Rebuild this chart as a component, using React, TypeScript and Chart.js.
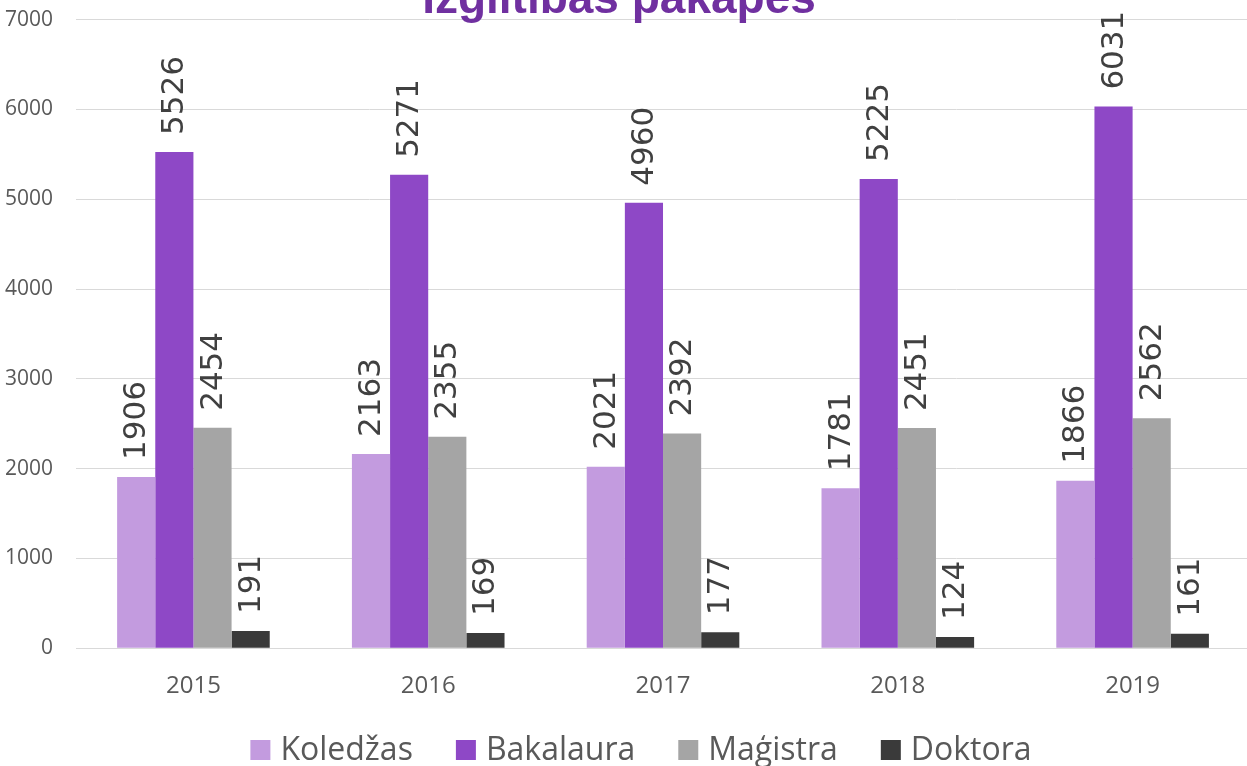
import React, { useEffect, useRef } from "react";
import { Chart, registerables } from "chart.js";

Chart.register(...registerables);

const years = ["2015", "2016", "2017", "2018", "2019"];
const seriesNames = ["Koledžas", "Bakalaura", "Maģistra", "Doktora"];
const koledzas = [1906, 2163, 2021, 1781, 1866];
const bakalaura = [5526, 5271, 4960, 5225, 6031];
const magistra = [2454, 2355, 2392, 2451, 2562];
const doktora = [191, 169, 177, 124, 161];
const seriesColors = ["#C39BDF", "#8E48C6", "#A5A5A5", "#3A3A3A"];
const yMax = 7000;
const yStep = 1000;
const titleText = "Izglītības pakāpes";

const SHIFT = 16;

const titlePlugin = {
  id: "clippedTitle",
  afterDraw(chart: any) {
    const ctx = chart.ctx;
    ctx.save();
    ctx.font = "bold 46px 'Liberation Sans', Arial, sans-serif";
    ctx.fillStyle = "#7030A0";
    ctx.textAlign = "center";
    ctx.textBaseline = "alphabetic";
    ctx.fillText(titleText, 619, 13 + SHIFT);
    ctx.restore();
  },
};

const legendPlugin = {
  id: "bottomLegend",
  afterDraw(chart: any) {
    const ctx = chart.ctx;
    ctx.save();
    ctx.font = "32px 'Open Sans', sans-serif";
    ctx.textBaseline = "alphabetic";
    ctx.textAlign = "left";
    const box = 20;
    const gapBoxText = 10;
    const gapItems = 43;
    const widths = chart.data.datasets.map((d: any) => ctx.measureText(d.label).width);
    let total = 0;
    widths.forEach((w: number, i: number) => {
      total += box + gapBoxText + w + (i < widths.length - 1 ? gapItems : 0);
    });
    let x = 641 - total / 2;
    chart.data.datasets.forEach((d: any, i: number) => {
      ctx.fillStyle = d.backgroundColor;
      ctx.fillRect(x, 740 + SHIFT, box, box);
      ctx.fillStyle = "#595959";
      ctx.fillText(d.label, x + box + gapBoxText, 760 + SHIFT);
      x += box + gapBoxText + widths[i] + gapItems;
    });
    ctx.restore();
  },
};

const labelPlugin = {
  id: "barLabels",
  afterDatasetsDraw(chart: any) {
    const ctx = chart.ctx;
    ctx.save();
    ctx.font = "31px 'DejaVu Sans', sans-serif";
    ctx.fillStyle = "#404040";
    ctx.textAlign = "left";
    ctx.textBaseline = "middle";
    chart.data.datasets.forEach((ds: any, i: number) => {
      const meta = chart.getDatasetMeta(i);
      meta.data.forEach((el: any, j: number) => {
        ctx.save();
        ctx.translate(el.x + 1, el.y - 17);
        ctx.rotate(-Math.PI / 2);
        ctx.fillText(String(ds.data[j]), 0, 0);
        ctx.restore();
      });
    });
    ctx.restore();
  },
};

export default function App() {
  const ref = useRef<HTMLCanvasElement | null>(null);
  useEffect(() => {
    if (!ref.current) return;
    const seriesData = [koledzas, bakalaura, magistra, doktora];
    const chart = new Chart(ref.current, {
      type: "bar",
      data: {
        labels: years,
        datasets: seriesNames.map((name, i) => ({
          label: name,
          data: seriesData[i],
          backgroundColor: seriesColors[i],
          borderWidth: 0,
          categoryPercentage: 0.65,
          barPercentage: 1.0,
        })),
      },
      options: {
        responsive: false,
        animation: false,
        layout: { autoPadding: false, padding: { top: -13, left: -18, right: 2, bottom: 41 } },
        scales: {
          x: {
            grid: { display: false, drawTicks: false },
            border: { display: true, color: "#D9D9D9", width: 1 },
            ticks: {
              color: "#595959",
              font: { family: "'Open Sans', sans-serif", size: 24 },
              padding: 24,
            },
          },
          y: {
            min: 0,
            max: yMax,
            grid: { color: "#D9D9D9", drawTicks: false },
            border: { display: false },
            ticks: {
              stepSize: yStep,
              color: "#595959",
              font: { family: "'Open Sans', sans-serif", size: 21 },
              padding: 23,
              callback: (v: any) => String(v),
            },
          },
        },
        plugins: {
          title: { display: false },
          tooltip: { enabled: false },
          legend: { display: false },
        },
      },
      plugins: [labelPlugin, titlePlugin, legendPlugin],
    });
    return () => chart.destroy();
  }, []);
  return (
    <div style={{ position: "fixed", left: 0, top: 0, width: 1247, height: 766, overflow: "hidden", background: "#fff" }}>
      <canvas
        ref={ref}
        width={1252}
        height={766 + SHIFT}
        style={{ display: "block", position: "absolute", left: 0, top: -SHIFT, width: 1252, height: 766 + SHIFT }}
      />
    </div>
  );
}
